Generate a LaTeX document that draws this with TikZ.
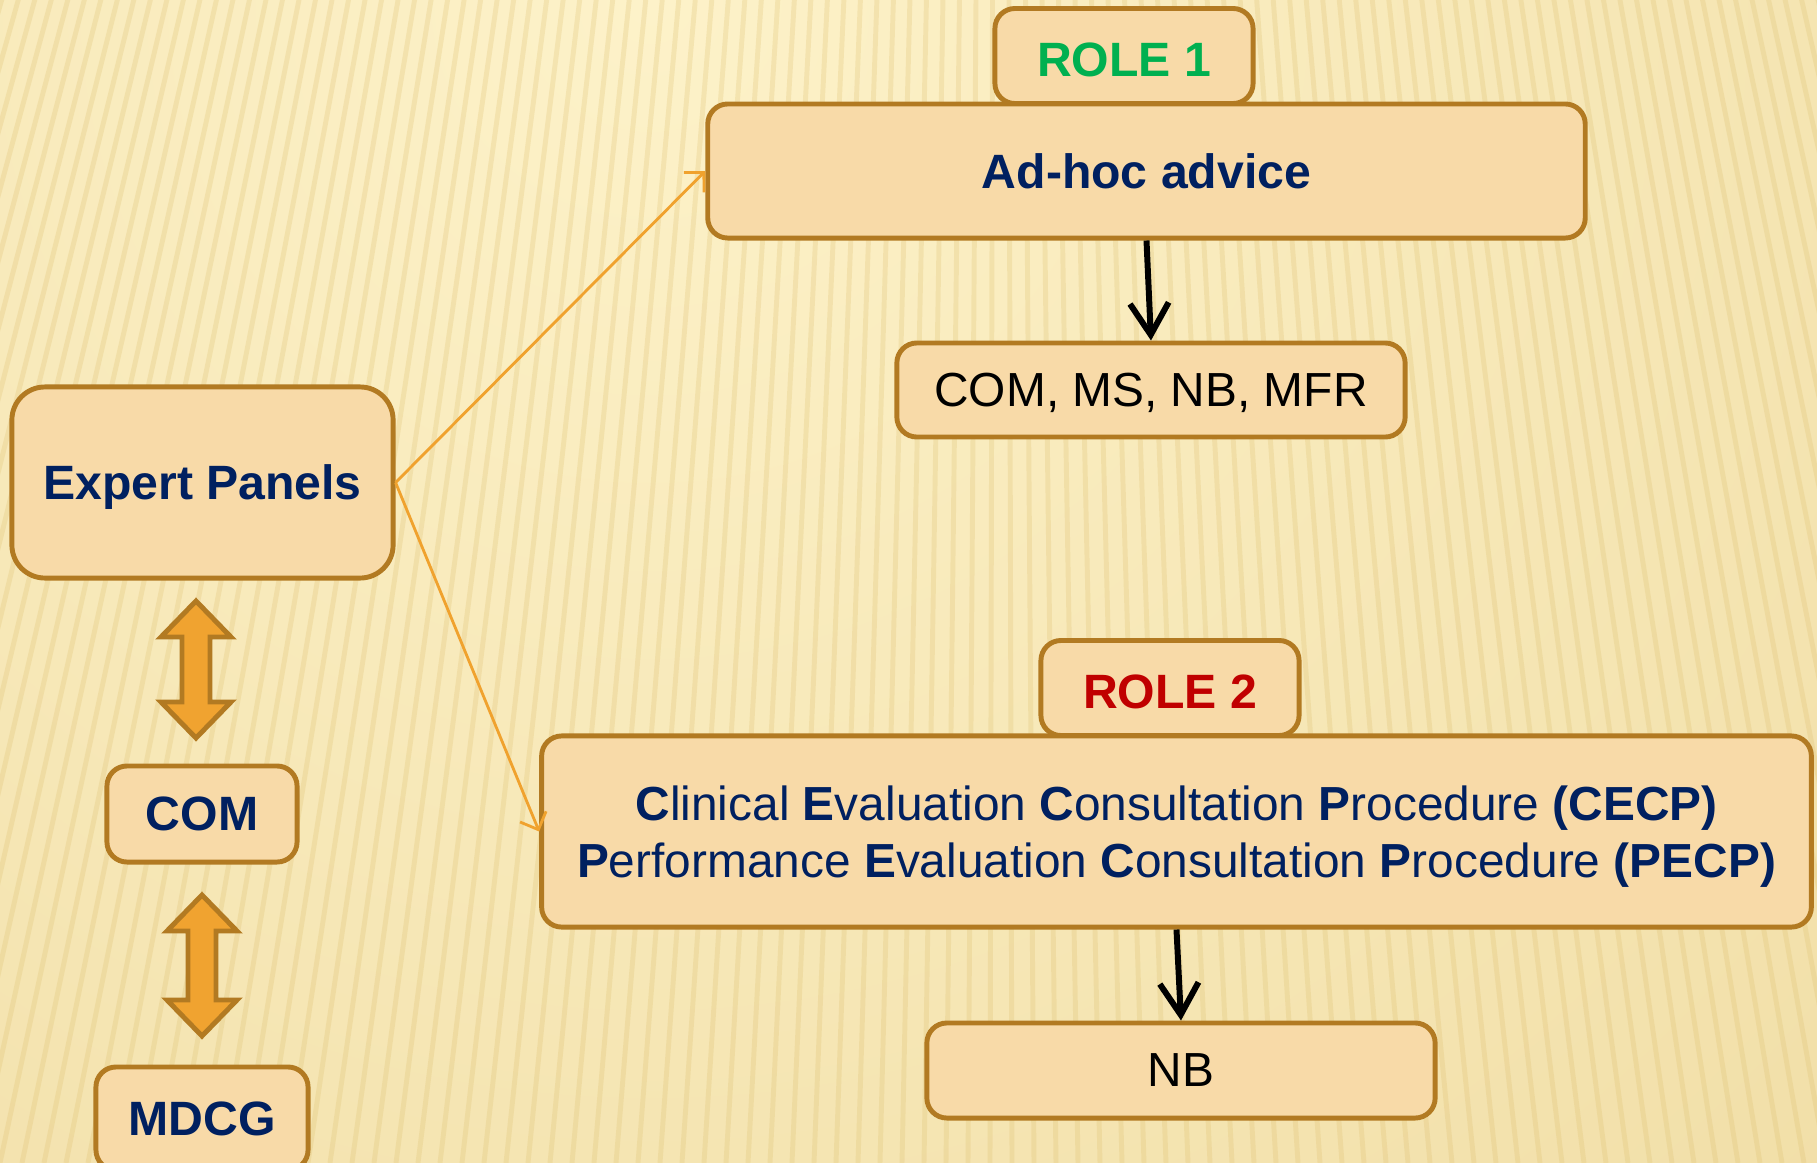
\documentclass[tikz,border=0pt]{standalone}
\usepackage{fontspec}
\setmainfont{Liberation Sans}
\usetikzlibrary{arrows.meta,positioning}

\definecolor{bglight}{HTML}{FDF2C9}
\definecolor{bgdark}{HTML}{E4C982}
\definecolor{stripecol}{HTML}{DDBE6C}
\definecolor{boxfill}{HTML}{F8DAA8}
\definecolor{boxline}{HTML}{B27A22}
\definecolor{navy}{HTML}{002060}
\definecolor{rolegreen}{HTML}{00B050}
\definecolor{rolered}{HTML}{C00000}
\definecolor{linkorange}{HTML}{F0A22E}
\definecolor{arrowfill}{HTML}{F0A330}

\tikzset{
  box/.style={draw=boxline, fill=boxfill, line width=1.4pt, rounded corners=0.2cm,
    inner sep=0pt, align=center, text depth=0pt, font=\fontsize{13.6}{16.2}\selectfont},
  headbox/.style={box, text=navy, font=\bfseries\fontsize{13.7}{16.2}\selectfont},
  rolebox/.style={headbox, text height=11.5pt, minimum width=2.58cm, minimum height=0.95cm},
  stripe/.style={draw=stripecol, line width=1.4pt, opacity=0.25},
  link/.style={draw=linkorange, line width=0.8pt, -{Straight Barb[length=4pt,width=8pt]}},
  flow/.style={line width=1.7pt, -{Straight Barb[length=9pt,width=11pt]}},
  updown/.style={draw=boxline, fill=arrowfill, line width=1.4pt},
}

\begin{document}
\begin{tikzpicture}[x=0.01cm,y=-0.01cm]
    \useasboundingbox (0,0) rectangle (1817,1163);
    % background
    \begin{scope}
    \clip (0,0) rectangle (1817,1163);
    \fill[bgdark] (0,0) rectangle (1817,1163);
    \shade[inner color=bglight, outer color=bgdark] (650,0) circle (3600);
    \foreach \i in {-60,...,140}
        \draw[stripe] (1000,-3500) -- (\i*22,1163);
    \end{scope}

    % role 1
    \node[rolebox, text=rolegreen] (role1) at (1124,56) {ROLE 1};
    \node[headbox, minimum width=8.77cm, minimum height=1.34cm] (adhoc) at (1146.5,171) {Ad-hoc advice};
    \node[box, minimum width=5.08cm, minimum height=0.94cm] (actors) at (1151,390) {COM, MS, NB, MFR};

    % left column
    \node[headbox, rounded corners=0.33cm, minimum width=3.81cm, minimum height=1.91cm] (expert) at (202.5,482.5) {Expert Panels};
    \node[headbox, minimum width=1.9cm, minimum height=0.96cm] (com) at (202,814) {COM};
    \node[headbox, minimum width=2.12cm, minimum height=1.03cm] (mdcg) at (202,1118.5) {MDCG};
    \foreach \cx/\ty/\by in {196/601/738, 202/895/1036}
        \filldraw[updown] (\cx,\ty) -- (\cx+35,\ty+36) -- (\cx+14,\ty+36) -- (\cx+14,\by-36)
            -- (\cx+35,\by-36) -- (\cx,\by) -- (\cx-35,\by-36) -- (\cx-14,\by-36)
            -- (\cx-14,\ty+36) -- (\cx-35,\ty+36) -- cycle;

    % role 2
    \node[rolebox, text=rolered] (role2) at (1170,688) {ROLE 2};
    \node[box, text=navy, font=\fontsize{13.6}{16.2}\selectfont, minimum width=12.69cm, minimum height=1.91cm] (cecp) at (1176.5,831.5)
        {\textbf{C}linical \textbf{E}valuation \textbf{C}onsultation \textbf{P}rocedure \textbf{(CECP)}\\
         \textbf{P}erformance \textbf{E}valuation \textbf{C}onsultation \textbf{P}rocedure \textbf{(PECP)}};
    \node[box, minimum width=5.08cm, minimum height=0.95cm] (nb) at (1181,1070.5) {NB};

    \draw[link] (expert.east) -- (adhoc.west);
    \draw[link] (expert.east) -- (cecp.west);
    \draw[flow] (adhoc.south) -- (actors.north);
    \draw[flow] (cecp.south) -- (nb.north);
\end{tikzpicture}
\end{document}
